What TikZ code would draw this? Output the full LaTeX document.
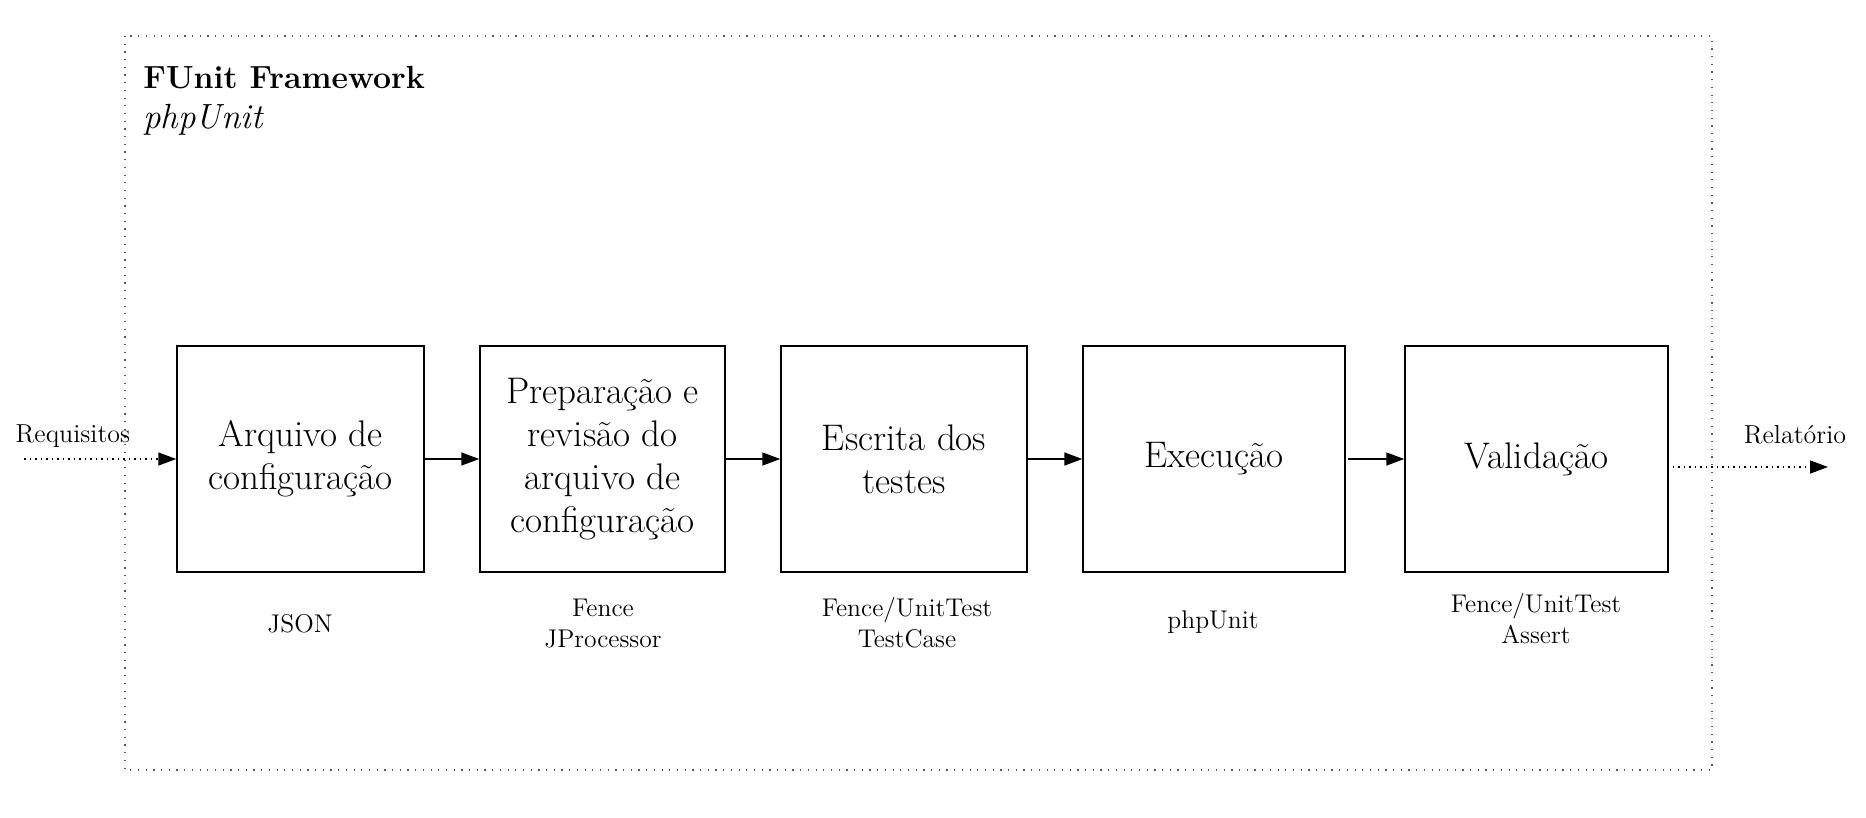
\documentclass[tikz,border=0pt]{standalone}
\usetikzlibrary{arrows.meta}
\begin{document}
\begin{tikzpicture}[x=0.5pt,y=-0.5pt,
  stage/.style={draw=black, line width=0.75pt, minimum height=113pt, inner sep=0pt,
    align=center, font=\fontsize{18.5}{21.5}\selectfont},
  tool/.style={align=center, anchor=base, inner sep=0pt, font=\fontsize{12.8}{15.5}\selectfont},
  io/.style={inner sep=0pt, font=\fontsize{13}{15.5}\selectfont},
  flow/.style={line width=0.75pt, -{Triangle[length=9pt,width=6.5pt]}},
  ioflow/.style={line width=0.75pt, dotted, -{Triangle[length=9pt,width=6.5pt]}},
  frame/.style={draw=black!65, line width=0.6pt, dash pattern=on 0.6pt off 3.25pt}
]
\useasboundingbox (0,0) rectangle (1866,818);
% framework frame
\draw[frame] (125,36) rectangle (1712,770);
\node[anchor=base west, inner sep=0pt, font=\fontsize{16}{19}\selectfont\bfseries] (title) at (143,89) {FUnit Framework};
\node[anchor=base west, inner sep=0pt, font=\fontsize{17.5}{20}\selectfont\itshape] (sub) at (143,129) {phpUnit};
% stages
\node[stage, minimum width=123.5pt] (b1) at (300.5,459) {Arquivo de\\configuração};
\node[stage, minimum width=122.5pt] (b2) at (602.5,459) {Preparação e\\revisão do\\arquivo de\\configuração};
\node[stage, minimum width=123pt] (b3) at (904,459) {Escrita dos\\testes};
\node[stage, minimum width=131pt] (b4) at (1214,459) {Execução};
\node[stage, minimum width=131.5pt] (b5) at (1536.5,459) {Validação};
% tools (anchor base = baseline of last line)
\node[tool] (t1) at (300,632) {JSON};
\node[tool] (t2) at (603,647) {Fence\\JProcessor};
\node[tool] (t3) at (907,647) {Fence/UnitTest\\TestCase};
\node[tool] (t4) at (1213,628) {phpUnit};
\node[tool] (t5) at (1536,643) {Fence/UnitTest\\Assert};
% connectors
\draw[flow] (b1.east) -- (b2.west);
\draw[flow] (b2.east) -- (b3.west);
\draw[flow] (b3.east) -- (b4.west);
\draw[flow] ([xshift=1pt]b4.east) -- (b5.west);
% input / output
\coordinate (reqstart) at (24,459);
\coordinate (relend) at (1828,467);
\node[io, anchor=base] (req) at (73,442) {Requisitos};
\node[io, anchor=base] (rel) at (1795,443) {Relatório};
\draw[ioflow] (reqstart) -- (b1.west);
\draw[ioflow] ([xshift=2pt]b5.east |- relend) -- (relend);
\end{tikzpicture}
\end{document}
